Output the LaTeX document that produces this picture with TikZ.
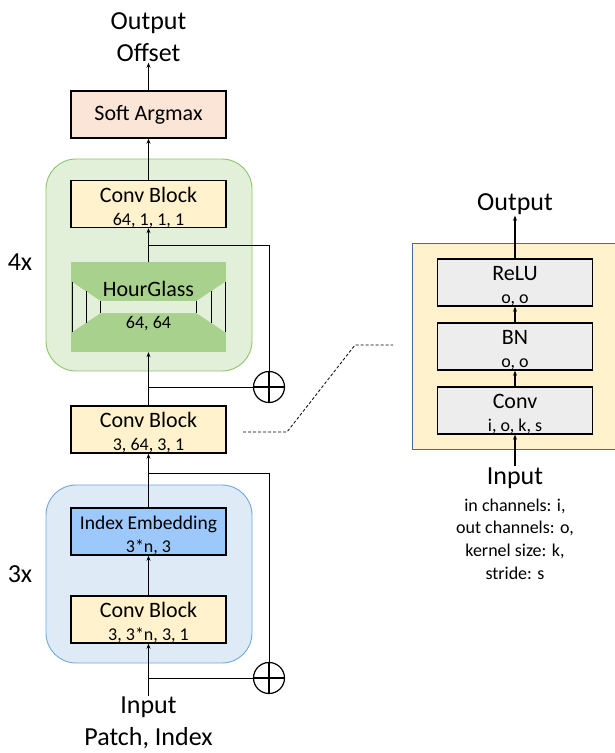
\documentclass[tikz,border=0pt]{standalone}
\usepackage{fontspec}
\setmainfont{Carlito}
\usetikzlibrary{arrows.meta}

\definecolor{peach}{HTML}{FBE5D6}
\definecolor{cream}{HTML}{FFF2CC}
\definecolor{leaf}{HTML}{E2F0D9}
\definecolor{leafline}{HTML}{8CC56A}
\definecolor{moss}{HTML}{A9D18E}
\definecolor{sky}{HTML}{DEEBF7}
\definecolor{skyline}{HTML}{6FA8DC}
\definecolor{embedblue}{HTML}{9DC8FB}
\definecolor{panelline}{HTML}{50699A}
\definecolor{layergray}{HTML}{EDEDED}

\newcommand{\fsbig}{\fontsize{26}{32}\selectfont}
\newcommand{\fsbox}{\fontsize{22}{23}\selectfont}
\newcommand{\fssub}{\fontsize{18}{23}\selectfont}
\newcommand{\fsnote}{\fontsize{18}{22.7}\selectfont}
\newcommand{\topstrut}{\rule{0pt}{21.5pt}}

\tikzset{
    blockbox/.style={draw, line width=1.4pt, minimum width=155pt, minimum height=47pt,
        inner sep=0pt, align=center, font=\fsbox},
    convbox/.style={blockbox, fill=cream},
    layerbox/.style={blockbox, fill=layergray},
    bigtxt/.style={font=\fsbig, align=center, inner sep=1pt},
    mainline/.style={->, line width=1.4pt},
    skipline/.style={line width=0.9pt},
    oplus/.style={circle, draw, line width=1.2pt, minimum size=31pt, inner sep=0pt,
        path picture={\draw[line width=1.2pt]
            (path picture bounding box.north) -- (path picture bounding box.south)
            (path picture bounding box.west) -- (path picture bounding box.east);}},
}

\begin{document}
\begin{tikzpicture}[x=1pt, y=-1pt, >={Stealth[length=5pt, width=4pt]}]
    \useasboundingbox (0,0) rectangle (615,753);

    % repeated groups
    \draw[leafline, fill=leaf, line width=0.9pt, rounded corners=30pt] (46,159) rectangle (252,371);
    \draw[skyline, fill=sky, line width=0.9pt, rounded corners=30pt] (46,485) rectangle (252,663);
    \node[bigtxt] (rep4) at (20,262) {4x};
    \node[bigtxt] (rep3) at (20,574) {3x};

    % main column
    \node[bigtxt] (out) at (148.5,37) {Output\\Offset};
    \node[blockbox, fill=peach] (sargmax) at (148.5,114.5) {Soft Argmax};
    \node[convbox] (cbtop) at (148.5,204) {\topstrut Conv Block\\\fssub 64, 1, 1, 1};

    \node[fill=moss, minimum width=155pt, minimum height=90pt, inner sep=0pt] (hg) at (148.5,307) {};
    \fill[leaf] (72,282) -- (100.5,301) -- (196.5,301) -- (225,282)
        -- (225,332) -- (196.5,313) -- (100.5,313) -- (72,332) -- cycle;
    \draw[line width=0.9pt] (72,282) -- (72,332) (86,291.3) -- (86,322.7) (100.5,301) -- (100.5,313)
        (225,282) -- (225,332) (211,291.3) -- (211,322.7) (196.5,301) -- (196.5,313);
    \node[font=\fsbox] (hgname) at (148.5,289) {HourGlass};
    \node[font=\fssub] (hgsize) at (148.5,324) {64, 64};

    \node[convbox] (cbmid) at (148.5,429.5) {\topstrut Conv Block\\\fssub 3, 64, 3, 1};
    \node[blockbox, fill=embedblue, font=\fontsize{19.5}{23}\selectfont] (embed) at (148.5,531.5)
        {\topstrut Index Embedding\\\fssub 3*n, 3};
    \node[convbox] (cbbot) at (148.5,619.5) {\topstrut Conv Block\\\fssub 3, 3*n, 3, 1};
    \node[bigtxt] (in) at (148.5,723) {Input\\Patch, Index};

    \draw[mainline] (sargmax.north) -- (out.south);
    \draw[mainline] (cbtop.north) -- (sargmax.south);
    \draw[mainline] (hg.north) -- (cbtop.south);
    \draw[mainline] (cbmid.north) -- (hg.south);
    \draw[mainline] (embed.north) -- (cbmid.south);
    \draw[mainline] (cbbot.north) -- (embed.south);
    \draw[mainline] (in.north) -- (cbbot.south);

    % residual paths
    \node[oplus] (plus1) at (269,387) {};
    \node[oplus] (plus2) at (269,678) {};
    \coordinate (j1) at (148.5,245);
    \coordinate (j3) at (148.5,473);
    \draw[skipline] (j1) -| (plus1.north);
    \draw[skipline] (plus1.west) -- (plus1 -| cbmid.north);
    \draw[skipline] (j3) -| (plus2.north);
    \draw[skipline] (plus2.west) -- (plus2 -| cbbot.north);

    % zoom-in on a conv block
    \coordinate (zs) at (243,432);
    \coordinate (ze) at (393,345);
    \draw[dash pattern=on 3pt off 2pt, line width=0.8pt] (zs) -- (287,432) -- (355,345) -- (ze);

    \begin{scope}
        \draw[panelline, fill=cream, line width=1pt] (412,243) rectangle (617,449);
        \node[layerbox] (relu) at (515,282.5) {\topstrut ReLU\\\fssub o, o};
        \node[layerbox] (bn) at (515,346.5) {\topstrut BN\\\fssub o, o};
        \node[layerbox] (conv) at (515,410.5) {\topstrut Conv\\\fssub i, o, k, s};
        \node[bigtxt] (rout) at (515,204) {Output};
        \node[bigtxt] (rin) at (515,478) {Input};
        \node[font=\fsnote, align=center] (legend) at (515,539)
            {in channels: i,\\out channels: o,\\kernel size: k,\\stride: s};

        \draw[mainline] (relu.north) -- (rout.south);
        \draw[mainline] (bn.north) -- (relu.south);
        \draw[mainline] (conv.north) -- (bn.south);
        \draw[mainline] (rin.north) -- (conv.south);
    \end{scope}
\end{tikzpicture}
\end{document}
